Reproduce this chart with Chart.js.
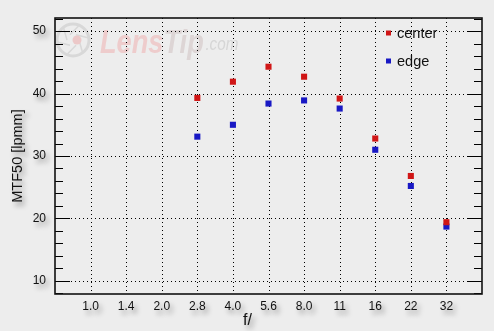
<!DOCTYPE html>
<html>
<head>
<meta charset="utf-8">
<script src="https://cdn.jsdelivr.net/npm/chart.js@4/dist/chart.umd.min.js"></script>
<style>
  html, body { margin: 0; padding: 0; background: #ededed; }
  canvas { display: block; }
</style>
</head>
<body>
<canvas id="mtf" width="494" height="331"></canvas>
<script>
/* --------------- Data --------------------- */
const fStops = ["1.0", "1.4", "2.0", "2.8", "4.0", "5.6", "8.0", "11", "16", "22", "32"];
const centerValues = [null, null, null, 39.3, 41.9, 44.3, 42.7, 39.2, 32.8, 26.8, 19.4];
const edgeValues = [null, null, null, 33.1, 35.0, 38.4, 38.9, 37.6, 31.0, 25.2, 18.7];
const yLabels = [10, 20, 30, 40, 50];

const bg = "#ededed";
const toPoints = (vals) =>
  vals.map((v, i) => (v === null ? null : { x: i + 1, y: v })).filter((p) => p);

/* --------------- Frame, grid, inward ticks, legend, watermark --------------------- */
const decor = {
  id: "decor",
  beforeDraw(chart) {
    const c = chart.ctx;
    c.fillStyle = bg;
    c.fillRect(0, 0, chart.width, chart.height);
    // grey drop shadow for the axis texts
    c.shadowColor = "rgba(0,0,0,0.4)";
    c.shadowBlur = 5;
    c.shadowOffsetX = 3;
    c.shadowOffsetY = 4;
  },
  beforeDatasetsDraw(chart) {
    const c = chart.ctx;
    const a = chart.chartArea;
    const xs = chart.scales.x;
    const ys = chart.scales.y;
    c.shadowColor = "transparent";
    c.shadowBlur = 0;
    c.shadowOffsetX = 0;
    c.shadowOffsetY = 0;

    // watermark
    c.save();
    c.strokeStyle = "#d8d8d8";
    c.lineWidth = 3;
    c.beginPath();
    c.arc(73, 40, 16, 0, Math.PI * 2);
    c.stroke();
    c.lineWidth = 1.5;
    for (let k = 0; k < 6; k++) {
      const ang = (k * Math.PI) / 3;
      c.beginPath();
      c.moveTo(73 + 6 * Math.cos(ang), 40 + 6 * Math.sin(ang));
      c.lineTo(73 + 15 * Math.cos(ang + 0.9), 40 + 15 * Math.sin(ang + 0.9));
      c.stroke();
    }
    c.fillStyle = "#ecc8c8";
    c.beginPath();
    c.arc(77, 40, 4.5, 0, Math.PI * 2);
    c.fill();
    c.translate(100, 53);
    c.scale(0.8, 1);
    c.font = "italic bold 34px 'Liberation Sans', Arial, sans-serif";
    c.textBaseline = "alphabetic";
    c.fillStyle = "#eecccc";
    c.fillText("Lens", 0, 0);
    const lw = c.measureText("Lens").width;
    c.fillStyle = "#ddd5d5";
    c.fillText("Tip", lw, 0);
    const tw = c.measureText("Tip").width;
    c.font = "italic 19px 'Liberation Sans', Arial, sans-serif";
    c.fillStyle = "#d6d6d6";
    c.fillText(".com", lw + tw + 2, -3);
    c.restore();

    c.save();
    c.strokeStyle = "#000";
    c.lineWidth = 1;
    c.setLineDash([1, 3]);
    // vertical dotted grid
    xs.ticks.forEach((t) => {
      const x = Math.round(xs.getPixelForValue(t.value)) + 0.5;
      c.beginPath();
      c.moveTo(x, a.top);
      c.lineTo(x, a.bottom);
      c.stroke();
    });
    // horizontal dotted grid
    yLabels.forEach((v) => {
      const y = Math.round(ys.getPixelForValue(v)) + 0.5;
      c.beginPath();
      c.moveTo(a.left, y);
      c.lineTo(a.right, y);
      c.stroke();
    });
    c.setLineDash([]);
    // inward tick marks on both sides
    ys.ticks.forEach((t) => {
      const y = Math.round(ys.getPixelForValue(t.value)) + 0.5;
      const len = t.value % 10 === 0 ? 15 : 8;
      c.beginPath();
      c.moveTo(a.left, y);
      c.lineTo(a.left + len, y);
      c.moveTo(a.right, y);
      c.lineTo(a.right - len, y);
      c.stroke();
    });
    // frame
    c.lineWidth = 1.6;
    c.strokeStyle = "#111";
    c.strokeRect(a.left, a.top, a.right - a.left, a.bottom - a.top);
    c.restore();
  },
  afterDraw(chart) {
    const c = chart.ctx;
    c.save();
    // x axis title
    c.shadowColor = "rgba(0,0,0,0.4)";
    c.shadowBlur = 5;
    c.shadowOffsetX = 3;
    c.shadowOffsetY = 4;
    c.font = "16px 'Liberation Sans', Arial, sans-serif";
    c.fillStyle = "#111";
    c.textAlign = "left";
    c.textBaseline = "alphabetic";
    c.fillText("f/", 243, 325);
    c.restore();

    // legend inside the plot
    c.save();
    c.font = "14.5px 'Liberation Sans', Arial, sans-serif";
    c.textBaseline = "middle";
    chart.data.datasets.forEach((ds, i) => {
      const y = 33 + i * 28;
      c.fillStyle = ds.backgroundColor;
      c.fillRect(386, y - 2.5, 5, 5);
      c.fillStyle = "#111";
      c.fillText(ds.label, 397, y + 1);
    });
    c.restore();
  },
};

/* --------------- Chart --------------------- */
const tickFont = { family: "'Liberation Sans', Arial, sans-serif", size: 12 };

new Chart(document.getElementById("mtf"), {
  type: "scatter",
  plugins: [decor],
  data: {
    datasets: [
      {
        label: "center",
        data: toPoints(centerValues),
        backgroundColor: "#d01616",
        borderWidth: 0,
        pointStyle: "rect",
        pointRadius: 4.3,
      },
      {
        label: "edge",
        data: toPoints(edgeValues),
        backgroundColor: "#1818c4",
        borderWidth: 0,
        pointStyle: "rect",
        pointRadius: 4.3,
      },
    ],
  },
  options: {
    responsive: false,
    animation: false,
    layout: { padding: { top: 18, right: 12, left: 0, bottom: 0 } },
    plugins: {
      legend: { display: false },
      tooltip: { enabled: false },
    },
    scales: {
      x: {
        type: "linear",
        min: 0,
        max: 12,
        afterBuildTicks: (s) => {
          s.ticks = fStops.map((f, i) => ({ value: i + 1 }));
        },
        afterFit: (s) => {
          s.height = 37;
        },
        ticks: {
          callback: (v) => fStops[v - 1],
          font: tickFont,
          color: "#111",
          padding: 5,
          maxRotation: 0,
          autoSkip: false,
        },
        grid: { display: false, drawTicks: false },
        border: { display: false },
      },
      y: {
        min: 7.9,
        max: 52.1,
        afterBuildTicks: (s) => {
          const t = [];
          for (let v = 8; v <= 52; v += 2) t.push({ value: v });
          s.ticks = t;
        },
        afterFit: (s) => {
          s.width = 55;
        },
        ticks: {
          callback: (v) => (yLabels.includes(v) ? String(v) : ""),
          font: tickFont,
          color: "#111",
          padding: 9,
          autoSkip: false,
        },
        title: {
          display: true,
          text: "MTF50 [lpmm]",
          color: "#111",
          font: { family: "'Liberation Sans', Arial, sans-serif", size: 14.5 },
          padding: { top: 9, bottom: 0 },
        },
        grid: { display: false, drawTicks: false },
        border: { display: false },
      },
    },
  },
});
</script>
</body>
</html>
